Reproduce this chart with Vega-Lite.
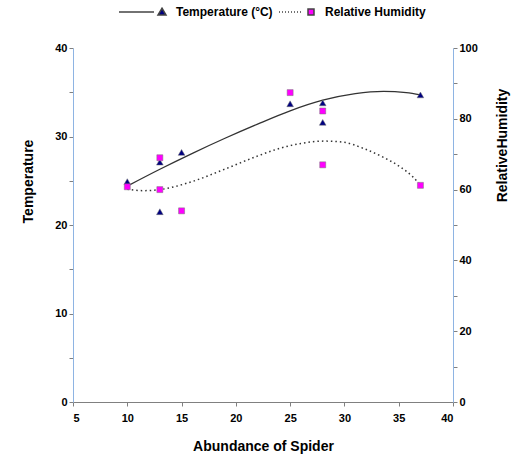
{
  "$schema": "https://vega.github.io/schema/vega-lite/v6.json",
  "width": 380,
  "height": 354,
  "autosize": {"type": "none"},
  "padding": {"left": 73, "top": 48, "right": 60, "bottom": 55},
  "background": "white",
  "config": {
    "view": {"stroke": null},
    "font": "Liberation Sans",
    "axis": {
      "grid": false,
      "labelFont": "Liberation Sans",
      "labelFontWeight": "bold",
      "labelFontSize": 11,
      "labelColor": "#000000",
      "titleFont": "Liberation Sans",
      "titleFontWeight": "bold",
      "titleFontSize": 14,
      "titleColor": "#000000",
      "tickColor": "#808080",
      "tickSize": 4
    }
  },
  "datasets": {
    "obs": [
      {"x": 10, "temp": 24.9, "rh": 60.8},
      {"x": 13, "temp": 27.1, "rh": 69},
      {"x": 13, "temp": 21.5, "rh": 60},
      {"x": 15, "temp": 28.2, "rh": 54},
      {"x": 25, "temp": 33.7, "rh": 87.4},
      {"x": 28, "temp": 33.8, "rh": 82.2},
      {"x": 28, "temp": 31.6, "rh": 67},
      {"x": 37, "temp": 34.7, "rh": 61.2}
    ],
    "tempTrend": [
      {"x": 10, "temp": 24.4},
      {"x": 13, "temp": 26.3},
      {"x": 16, "temp": 28.1},
      {"x": 19, "temp": 29.8},
      {"x": 22, "temp": 31.4},
      {"x": 25, "temp": 32.9},
      {"x": 28, "temp": 34.1},
      {"x": 31, "temp": 34.85},
      {"x": 33.6, "temp": 35.1},
      {"x": 35.7, "temp": 34.95},
      {"x": 37, "temp": 34.7}
    ],
    "rhTrend": [
      {"x": 10, "rh": 60.1},
      {"x": 11.5, "rh": 59.7},
      {"x": 13, "rh": 60.0},
      {"x": 16, "rh": 62.3},
      {"x": 19, "rh": 65.8},
      {"x": 22.1, "rh": 69.6},
      {"x": 24.1, "rh": 71.7},
      {"x": 26.1, "rh": 73.1},
      {"x": 28.2, "rh": 73.7},
      {"x": 29.9, "rh": 73.4},
      {"x": 31.7, "rh": 71.7},
      {"x": 33.6, "rh": 69.1},
      {"x": 35.1, "rh": 66.5},
      {"x": 36.3, "rh": 63.6},
      {"x": 37, "rh": 61.3}
    ],
    "series": [
      {"series": "Temperature (°C)"},
      {"series": "Relative Humidity"}
    ]
  },
  "layer": [
    {
      "encoding": {
        "x": {
          "field": "x", "type": "quantitative",
          "scale": {"domain": [5, 40], "nice": false, "zero": false},
          "axis": {
            "values": [5, 10, 15, 20, 25, 30, 35, 40],
            "domainColor": "#808080",
            "labelPadding": 6,
            "title": "Abundance of Spider",
            "titlePadding": 16
          }
        },
        "y": {
          "field": "temp", "type": "quantitative",
          "scale": {"domain": [0, 40], "nice": false},
          "axis": {
            "orient": "left",
            "values": [0, 5, 10, 15, 20, 25, 30, 35, 40],
            "labelExpr": "datum.value % 10 === 0 ? datum.label : ''",
            "domainColor": "#8EB4E3",
            "title": "Temperature",
            "titleAngle": 270,
            "titleX": -45,
            "titleY": 133,
            "titleAlign": "center",
            "titleBaseline": "middle"
          }
        }
      },
      "layer": [
        {
          "data": {"name": "tempTrend"},
          "mark": {"type": "line", "color": "#333333", "strokeWidth": 1.3, "interpolate": "monotone"}
        },
        {
          "data": {"name": "obs"},
          "mark": {"type": "point", "shape": "triangle-up", "filled": true, "fill": "#000080", "stroke": "#777777", "strokeWidth": 0.5, "size": 45, "opacity": 1}
        }
      ]
    },
    {
      "encoding": {
        "x": {"field": "x", "type": "quantitative"},
        "y": {
          "field": "rh", "type": "quantitative",
          "scale": {"domain": [0, 100], "nice": false},
          "axis": {
            "orient": "right",
            "values": [0, 10, 20, 30, 40, 50, 60, 70, 80, 90, 100],
            "labelExpr": "datum.value % 20 === 0 ? datum.label : ''",
            "domainColor": "#8EB4E3",
            "title": "RelativeHumidity",
            "titleAngle": 270,
            "titleX": 49,
            "titleY": 97,
            "titleAlign": "center",
            "titleBaseline": "middle"
          }
        }
      },
      "layer": [
        {
          "data": {"name": "rhTrend"},
          "mark": {"type": "line", "color": "#333333", "strokeWidth": 1.5, "strokeDash": [1.5, 3], "interpolate": "monotone"}
        },
        {
          "data": {"name": "obs"},
          "mark": {"type": "point", "shape": "square", "filled": true, "fill": "#FF00FF", "stroke": "#777777", "strokeWidth": 0.5, "size": 36, "opacity": 1}
        }
      ]
    },
    {
      "data": {"name": "series"},
      "transform": [{"filter": "datum.series === 'none'"}],
      "mark": {"type": "point", "filled": true, "opacity": 1, "stroke": "#444444", "strokeWidth": 1.2},
      "encoding": {
        "shape": {
          "field": "series", "type": "nominal",
          "scale": {
            "domain": ["Temperature (°C)", "Relative Humidity"],
            "range": [
              "M-8.6,0H-1.6M0,-0.75L0.8,0.6L-0.8,0.6Z",
              "M-6.4,0h0.2M-5.8,0h0.2M-5.2,0h0.2M-4.6,0h0.2M-4,0h0.2M-3.4,0h0.2M-2.8,0h0.2M-2.2,0h0.2M-0.6,-0.6H0.6V0.6H-0.6Z"
            ]
          },
          "legend": {
            "title": null,
            "orient": "none",
            "direction": "horizontal",
            "legendX": 83,
            "legendY": -42,
            "labelFont": "Liberation Sans",
            "labelFontWeight": "bold",
            "labelFontSize": 12,
            "labelColor": "#000000",
            "symbolSize": 100,
            "columnPadding": 3,
            "labelOffset": 8,
            "symbolOpacity": 1,
            "encode": {
              "symbols": {
                "update": {
                  "stroke": {"value": "#444444"},
                  "strokeWidth": {"value": 1.2},
                  "opacity": {"value": 1}
                }
              }
            }
          }
        },
        "fill": {
          "field": "series", "type": "nominal",
          "scale": {"domain": ["Temperature (°C)", "Relative Humidity"], "range": ["#000080", "#FF00FF"]},
          "legend": {"title": null}
        }
      }
    }
  ],
  "resolve": {"scale": {"y": "independent"}}
}
